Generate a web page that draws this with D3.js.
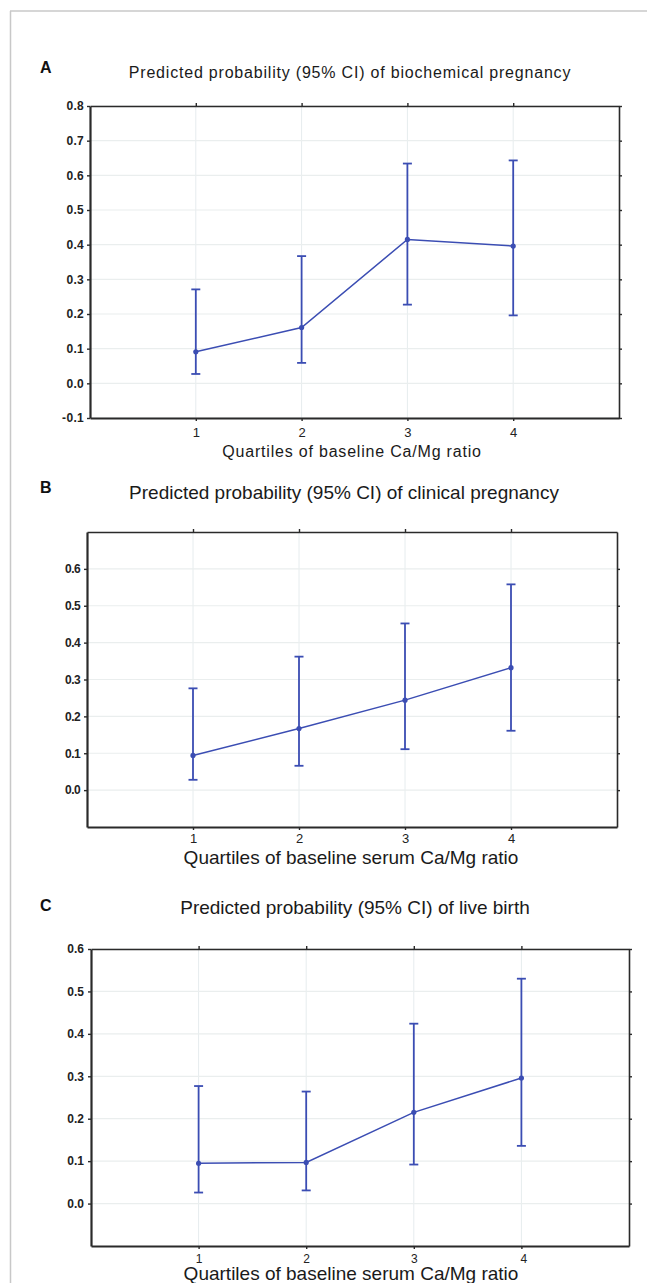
<!DOCTYPE html>
<html>
<head>
<meta charset="utf-8">
<script src="https://cdn.jsdelivr.net/npm/d3@7"></script>
<style>
  body { margin: 0; background: #fff; }
  svg { display: block; font-family: "Liberation Sans", Arial, sans-serif; }
</style>
</head>
<body>
<svg id="chart" width="647" height="1283"></svg>
<script>
// quartile positions on x
var quartiles = [1, 2, 3, 4];

// A - biochemical pregnancy
var biochemEst  = [0.091, 0.161, 0.415, 0.396];
var biochemLow  = [0.027, 0.059, 0.227, 0.196];
var biochemHigh = [0.271, 0.367, 0.634, 0.643];

// B - clinical pregnancy
var clinicalEst  = [0.094, 0.167, 0.244, 0.332];
var clinicalLow  = [0.028, 0.066, 0.111, 0.161];
var clinicalHigh = [0.276, 0.362, 0.452, 0.558];

// C - live birth
var liveEst  = [0.095, 0.097, 0.215, 0.296];
var liveLow  = [0.026, 0.031, 0.092, 0.136];
var liveHigh = [0.277, 0.264, 0.424, 0.530];

var yTicksA = [-0.1, 0.0, 0.1, 0.2, 0.3, 0.4, 0.5, 0.6, 0.7, 0.8];
var yTicksB = [0.0, 0.1, 0.2, 0.3, 0.4, 0.5, 0.6];
var yTicksC = [0.0, 0.1, 0.2, 0.3, 0.4, 0.5, 0.6];

var lineColor = "#3b4db3";
var svg = d3.select("#chart");

// light frame round the figure
svg.append("line").attr("x1", 10.5).attr("x2", 10.5).attr("y1", 11).attr("y2", 1283)
  .attr("stroke", "#c8c8c8").attr("stroke-width", 1.5);
svg.append("line").attr("x1", 10).attr("x2", 647).attr("y1", 11).attr("y2", 11)
  .attr("stroke", "#c8c8c8").attr("stroke-width", 1.5);

// hyphen instead of unicode minus, like the original
function fmtY(d){ return d3.format(".1f")(d).replace("\u2212", "-"); }

function drawPanel(p){
  var x = d3.scaleLinear().domain([0, 5]).range([p.left, p.right]);
  var y = d3.scaleLinear().domain(p.yDomain).range([p.bottom, p.top]);
  var g = svg.append("g");

  // grid
  g.selectAll(".vgrid").data(quartiles).enter().append("line")
    .attr("x1", d => x(d)).attr("x2", d => x(d))
    .attr("y1", p.top).attr("y2", p.bottom)
    .attr("stroke", "#e6ecee").attr("stroke-width", 1);
  g.selectAll(".hgrid").data(p.yTicks).enter().append("line")
    .attr("x1", p.left).attr("x2", p.right)
    .attr("y1", d => y(d)).attr("y2", d => y(d))
    .attr("stroke", "#eaeeee").attr("stroke-width", 1.2);

  // axes on four sides
  var left = d3.axisLeft(y).tickValues(p.yTicks).tickSize(3).tickSizeOuter(0).tickFormat(fmtY);
  var right = d3.axisRight(y).tickValues(p.yTicks).tickSize(3).tickSizeOuter(0).tickFormat("");
  var bottom = d3.axisBottom(x).tickValues(quartiles).tickSize(3).tickSizeOuter(0)
    .tickFormat(d3.format("d"));
  var top = d3.axisTop(x).tickValues(quartiles).tickSize(3).tickSizeOuter(0).tickFormat("");

  var ga = g.append("g").attr("transform", "translate(" + p.left + ",0)").call(left);
  ga.selectAll("text").attr("x", p.yLabelX).style("font-size", p.yFont + "px")
    .style("font-weight", "bold").style("letter-spacing", p.ySpacing + "px").attr("fill", "#222");
  var gr = g.append("g").attr("transform", "translate(" + p.right + ",0)").call(right);
  var gb = g.append("g").attr("transform", "translate(0," + p.bottom + ")").call(bottom);
  gb.selectAll("text").attr("y", p.xLabelDy).style("font-size", p.xFont + "px")
    .attr("fill", "#222");
  if (p.xShift) gb.selectAll("text").attr("dx", (d) => d == 4 ? p.xShift : 0);
  var gt = g.append("g").attr("transform", "translate(0," + p.top + ")").call(top);

  [ga, gr, gb, gt].forEach(function(a){
    a.select(".domain").attr("stroke", "#2a2a2a").attr("stroke-width", 1.6);
    a.selectAll(".tick line").attr("stroke", "#2a2a2a").attr("stroke-width", 1.4);
  });
  ga.select(".domain").attr("stroke-width", 2.2);
  gb.select(".domain").attr("stroke-width", 2.2);

  // data
  var rows = quartiles.map((q, i) => ({q: q, est: p.est[i], lo: p.low[i], hi: p.high[i]}));

  g.selectAll(".err").data(rows).enter().append("line")
    .attr("x1", d => x(d.q)).attr("x2", d => x(d.q))
    .attr("y1", d => y(d.lo)).attr("y2", d => y(d.hi))
    .attr("stroke", lineColor).attr("stroke-width", 1.8);
  ["lo", "hi"].forEach(function(k){
    g.selectAll(".cap" + k).data(rows).enter().append("line")
      .attr("x1", d => x(d.q) - 4.5).attr("x2", d => x(d.q) + 4.5)
      .attr("y1", d => y(d[k])).attr("y2", d => y(d[k]))
      .attr("stroke", lineColor).attr("stroke-width", 1.8);
  });

  var line = d3.line().x(d => x(d.q)).y(d => y(d.est));
  g.append("path").datum(rows).attr("d", line)
    .attr("fill", "none").attr("stroke", lineColor).attr("stroke-width", 1.5);
  g.selectAll(".pt").data(rows).enter().append("circle")
    .attr("cx", d => x(d.q)).attr("cy", d => y(d.est)).attr("r", 2.6)
    .attr("fill", lineColor);

  // texts
  svg.append("text").attr("x", 40).attr("y", p.letterY).text(p.letter)
    .style("font-size", "16px").style("font-weight", "bold").attr("fill", "#111");
  svg.append("text").attr("x", p.titleX).attr("y", p.titleY).attr("text-anchor", "middle")
    .style("font-size", p.titleFont + "px").style("letter-spacing", p.titleSpacing + "px")
    .attr("fill", "#1a1a1a").text(p.title);
  svg.append("text").attr("x", p.xTitleX).attr("y", p.xTitleY).attr("text-anchor", "middle")
    .style("font-size", p.xTitleFont + "px").style("letter-spacing", p.titleSpacing + "px")
    .attr("fill", "#1a1a1a").text(p.xTitle);
}

drawPanel({
  letter: "A", letterY: 73,
  title: "Predicted probability (95% CI) of biochemical pregnancy",
  titleX: 350, titleY: 78, titleFont: 16, titleSpacing: 0.8,
  xTitle: "Quartiles of baseline Ca/Mg ratio",
  xTitleX: 352, xTitleY: 457, xTitleFont: 16,
  left: 90, right: 619, top: 106, bottom: 418,
  yDomain: [-0.1, 0.8], yTicks: yTicksA, yFont: 12, ySpacing: 0.3, yLabelX: -6,
  xFont: 13, xLabelDy: 10,
  est: biochemEst, low: biochemLow, high: biochemHigh
});

drawPanel({
  letter: "B", letterY: 493,
  title: "Predicted probability (95% CI) of clinical pregnancy",
  titleX: 344, titleY: 499, titleFont: 19, titleSpacing: 0,
  xTitle: "Quartiles of baseline serum Ca/Mg ratio",
  xTitleX: 351, xTitleY: 864, xTitleFont: 19,
  left: 87, right: 617, top: 532, bottom: 827,
  yDomain: [-0.1, 0.7], yTicks: yTicksB, yFont: 12, ySpacing: -0.6, yLabelX: -7,
  xFont: 13, xLabelDy: 7,
  est: clinicalEst, low: clinicalLow, high: clinicalHigh
});

drawPanel({
  letter: "C", letterY: 911,
  title: "Predicted probability (95% CI) of live birth",
  titleX: 355, titleY: 914, titleFont: 19, titleSpacing: 0,
  xTitle: "Quartiles of baseline serum Ca/Mg ratio",
  xTitleX: 351, xTitleY: 1280, xTitleFont: 19,
  left: 91, right: 629, top: 949, bottom: 1246, xShift: 2,
  yDomain: [-0.1, 0.6], yTicks: yTicksC, yFont: 12, ySpacing: 0, yLabelX: -7,
  xFont: 12, xLabelDy: 8,
  est: liveEst, low: liveLow, high: liveHigh
});
</script>
</body>
</html>
